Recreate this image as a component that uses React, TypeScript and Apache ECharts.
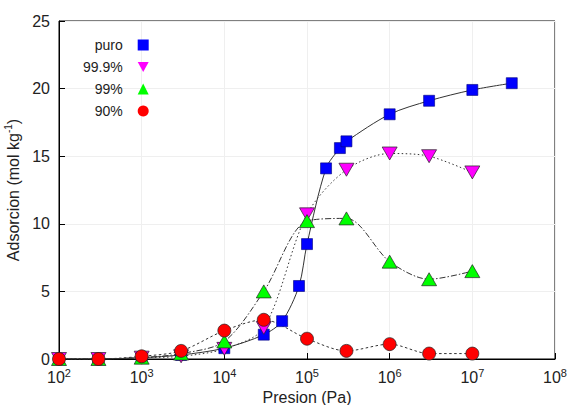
import React, { useEffect, useRef } from "react";
import * as echarts from "echarts";

const seriesNames = ["puro", "99.9%", "99%", "90%"];

const puroP = [1e2, 3e2, 1e3, 3e3, 1e4, 3e4, 5e4, 8e4, 1e5, 1.7e5, 2.5e5, 3e5, 1e6, 3e6, 1e7, 3e7];
const puroQ = [0, 0, 0.1, 0.3, 0.8, 1.8, 2.8, 5.4, 8.5, 14.1, 15.6, 16.1, 18.1, 19.1, 19.9, 20.4];

const p999P = [1e2, 3e2, 1e3, 3e3, 1e4, 3e4, 1e5, 3e5, 1e6, 3e6, 1e7];
const p999Q = [0, 0, 0.1, 0.2, 0.75, 2.3, 10.7, 14.0, 15.2, 15.0, 13.8];

const p99P = [1e2, 3e2, 1e3, 3e3, 1e4, 3e4, 1e5, 3e5, 1e6, 3e6, 1e7];
const p99Q = [0, 0, 0.1, 0.4, 1.3, 5.0, 10.2, 10.4, 7.2, 5.9, 6.5];

const p90P = [1e2, 3e2, 1e3, 3e3, 1e4, 3e4, 1e5, 3e5, 1e6, 3e6, 1e7];
const p90Q = [0, 0, 0.2, 0.6, 2.1, 2.9, 1.5, 0.6, 1.1, 0.4, 0.4];

const yTicks = [0, 5, 10, 15, 20, 25];

const zip = (xs: number[], ys: number[]) => xs.map((x, i) => [x, ys[i]]);

const FONT = "Liberation Sans";
const DOWN_TRI = "path://M0,0L10,0L5,9Z";

export default function App() {
  const ref = useRef<HTMLDivElement>(null);
  useEffect(() => {
    if (!ref.current) return;
    const chart = echarts.init(ref.current, undefined, { renderer: "svg" });
    const lineBase = { color: "#333", width: 1 };
    chart.setOption({
      animation: false,
      backgroundColor: "#fff",
      grid: {
        left: 59,
        right: 15,
        top: 21,
        bottom: 46,
        outerBoundsMode: "none",
        containLabel: false,
        show: true,
        borderColor: "#000",
        borderWidth: 1,
      },
      legend: {
        orient: "vertical",
        align: "right",
        left: 78,
        top: 33,
        itemWidth: 11,
        itemHeight: 11,
        itemGap: 8,
        lineStyle: { opacity: 0 },
        itemStyle: { borderWidth: 0 },
        textStyle: { fontFamily: FONT, fontSize: 14, color: "#222", padding: [0, 10, 0, 0] },
        data: [
          { name: seriesNames[0], icon: "rect" },
          { name: seriesNames[1], icon: DOWN_TRI },
          { name: seriesNames[2], icon: "triangle" },
          { name: seriesNames[3], icon: "circle" },
        ],
      },
      xAxis: {
        type: "log",
        logBase: 10,
        min: 1e2,
        max: 1e8,
        name: "Presion (Pa)",
        nameLocation: "middle",
        nameGap: 26,
        nameTextStyle: { fontFamily: FONT, fontSize: 16, color: "#222", verticalAlign: "top" },
        axisLine: { lineStyle: { color: "#000" } },
        axisTick: { inside: true, length: 6, lineStyle: { color: "#000" } },
        splitLine: { show: true, lineStyle: { color: "#efefef" } },
        axisLabel: {
          margin: 8,
          fontFamily: FONT,
          fontSize: 16,
          color: "#222",
          formatter: (v: number) => "10{s|" + Math.round(Math.log10(v)) + "}",
          rich: {
            s: { fontFamily: FONT, fontSize: 11, color: "#222", padding: [0, 0, 9, 0] },
          },
        },
      },
      yAxis: {
        type: "value",
        min: yTicks[0],
        max: yTicks[yTicks.length - 1],
        interval: 5,
        name: "Adsorcion (mol kg{s|-1})",
        nameLocation: "middle",
        nameGap: 27,
        nameTextStyle: {
          fontFamily: FONT,
          fontSize: 16,
          color: "#222",
          rich: { s: { fontFamily: FONT, fontSize: 10, color: "#222", padding: [0, 0, 9, 0] } },
        },
        axisLine: { show: true, lineStyle: { color: "#000" } },
        axisTick: { show: true, inside: true, length: 6, lineStyle: { color: "#000" } },
        splitLine: { show: true, lineStyle: { color: "#efefef" } },
        axisLabel: { margin: 9, fontFamily: FONT, fontSize: 16, color: "#222" },
      },
      series: [
        {
          name: seriesNames[0],
          type: "line",
          data: zip(puroP, puroQ),
          smooth: 0.3,
          symbol: "rect",
          symbolSize: 11,
          lineStyle: { ...lineBase, type: "solid" },
          itemStyle: { color: "#0000ff", borderColor: "#00007a", borderWidth: 0.6 },
        },
        {
          name: seriesNames[1],
          type: "line",
          data: zip(p999P, p999Q),
          smooth: 0.3,
          symbol: DOWN_TRI,
          symbolSize: [15, 13],
          lineStyle: { ...lineBase, type: [1.5, 2.5] },
          itemStyle: { color: "#ff00ff", borderColor: "#222", borderWidth: 0.7 },
        },
        {
          name: seriesNames[2],
          type: "line",
          data: zip(p99P, p99Q),
          smooth: 0.3,
          symbol: "triangle",
          symbolSize: [15, 13],
          lineStyle: { ...lineBase, type: [6, 2, 1.5, 2] },
          itemStyle: { color: "#00ff00", borderColor: "#222", borderWidth: 0.7 },
        },
        {
          name: seriesNames[3],
          type: "line",
          data: zip(p90P, p90Q),
          smooth: 0.3,
          symbol: "circle",
          symbolSize: 13,
          lineStyle: { ...lineBase, type: [2.5, 2.5] },
          itemStyle: { color: "#ff0000", borderColor: "#222", borderWidth: 0.7 },
        },
      ],
    });
    return () => chart.dispose();
  }, []);
  return (
    <div
      ref={ref}
      style={{ position: "fixed", left: 0, top: 0, width: 570, height: 405 }}
    />
  );
}
